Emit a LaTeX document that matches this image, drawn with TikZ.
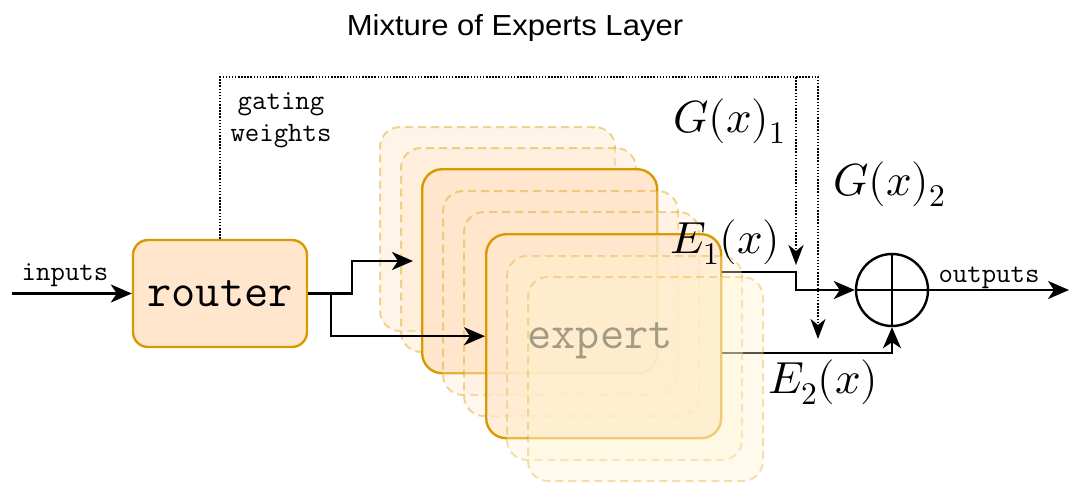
\documentclass[tikz,border=0pt]{standalone}
\usepackage{fontspec}
\usepackage{unicode-math}
\setmainfont{Liberation Sans}
\setmathfont{Latin Modern Math}
\usetikzlibrary{arrows.meta,calc}

\definecolor{boxfill}{HTML}{FFE6CC}
\definecolor{boxline}{HTML}{D79B00}
\definecolor{frontfill}{HTML}{FFF2CC}

\begin{document}
\begin{tikzpicture}[x=1pt,y=-1pt,
  expbox/.style={rounded corners=20pt, minimum width=235pt, minimum height=204pt,
    anchor=north west, inner sep=0pt, line width=2pt},
  ghost/.style={expbox, draw=boxline, draw opacity=0.4, dash pattern=on 8pt off 5pt,
    fill=boxfill, fill opacity=0.45},
  ghostfront/.style={expbox, draw=boxline, draw opacity=0.3, dash pattern=on 8pt off 5pt,
    fill=frontfill, fill opacity=0.35},
  solidbox/.style={expbox, draw=boxline, line width=2.4pt, fill=boxfill},
  wire/.style={line width=2.5pt, -{Stealth[length=21pt,width=18pt,inset=6pt]}},
  gate/.style={line width=2.3pt, dash pattern=on 1.5pt off 1.6pt,
    -{Stealth[length=20pt,width=15pt,inset=6pt]}},
  mono/.style={font=\fontsize{28}{32}\selectfont\ttfamily},
  mathlbl/.style={anchor=base west, inner sep=0pt, font=\fontsize{45}{50}\selectfont},
]
\useasboundingbox (0,0) rectangle (1070,483);

% title
\node[anchor=base, font=\fontsize{29}{32}\selectfont] (title) at (515,35)
  {\scalebox{1.07}[1]{Mixture of Experts Layer}};

% stacked expert blocks, back to front
\node[ghost] (d1) at (379,126) {};
\node[ghost] (d2) at (400,147) {};
\node[solidbox] (exA) at (421,168) {};
\node[ghost, fill opacity=0.3] (d3) at (442,190) {};
\node[ghost, fill opacity=0.3] (d4) at (463,211) {};
\node[solidbox, fill opacity=0.75] (exB) at (485,233) {};
\node[anchor=base, font=\fontsize{47}{50}\selectfont\ttfamily, text=black!85] (exlabel)
  at ($(exB.north west)+(115,115)$) {expert};

% router
\node[draw=boxline, fill=boxfill, line width=2.4pt, rounded corners=15pt,
  minimum width=174pt, minimum height=107pt, inner sep=0pt,
  font=\fontsize{47}{50}\selectfont\ttfamily] (router) at (220,293.5) {router};

% summation node
\node[circle, draw, line width=2.4pt, minimum size=72pt, inner sep=0pt] (sum) at (892,290) {};
\draw[line width=2.3pt] (sum.north) -- (sum.south) (sum.west) -- (sum.east);

% helper coordinates
\coordinate (in)   at (12,293.5);
\coordinate (out)  at (1069,290);
\coordinate (ytop) at (0,77);
\coordinate (e1y)  at (0,272);
\coordinate (e2y)  at (0,353);
\coordinate (g1)   at (796,265);
\coordinate (g2)   at (818,339);
\coordinate (tipA) at ($(exA.north west)+(-8,93)$);

% inputs and routing
\draw[wire] (in) -- (router.west);
\node[mono, anchor=base] (lin) at (65,280) {inputs};
\draw[wire] (router.east) -- ++(44,0) |- (tipA);
\draw[wire] ($(router.east)+(23,0)$) |- (exB.west);

% gating weights
\draw[gate] (router.north) |- (g2 |- ytop) -- (g2);
\draw[gate] (g1 |- ytop) -- (g1);
\node[mono, align=center] (lgate) at (281,120) {gating\\weights};

% expert outputs
\draw[wire] (exB.east |- e1y) -- (g1 |- e1y) |- (sum.west);
\draw[wire] (exB.east |- e2y) -| (sum.south);
\draw[wire] (sum.east) -- (out);
\node[mono, anchor=base] (lout) at (989,282) {outputs};

% front ghost blocks
\node[ghostfront] (d5) at (506,255) {};
\node[ghostfront] (d6) at (527,276) {};

% math labels
\node[mathlbl] (G1) at (673,132) {$G(x)_1$};
\node[mathlbl] (G2) at (833,195) {$G(x)_2$};
\node[mathlbl] (E1) at (670,253) {$E_1(x)$};
\node[mathlbl] (E2) at (768,393) {$E_2(x)$};
\end{tikzpicture}
\end{document}
